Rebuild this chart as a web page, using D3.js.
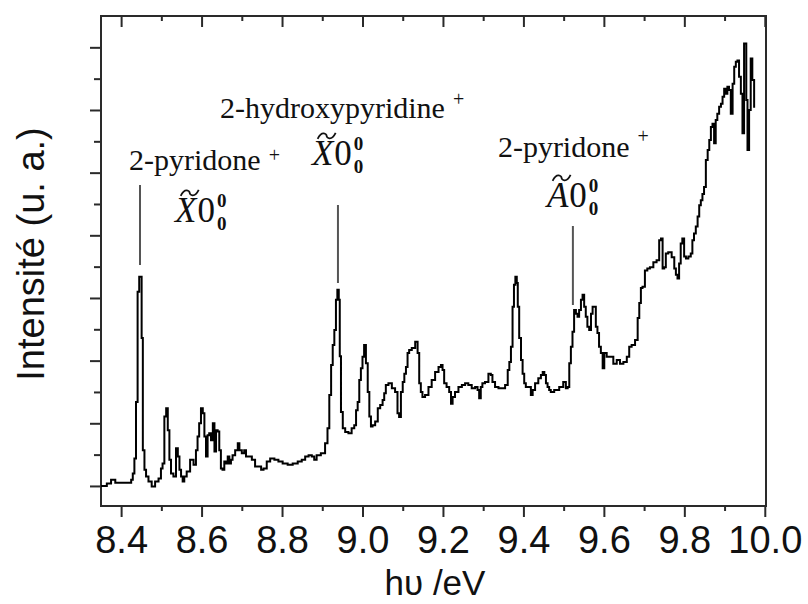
<!DOCTYPE html>
<html><head><meta charset="utf-8">
<script src="https://cdn.jsdelivr.net/npm/d3@7"></script>
<style>body{margin:0;background:#fff}svg{display:block}</style>
</head><body><svg id="c" width="808" height="604"></svg>
<script>
// ---- data (photon energy in eV, intensity in arbitrary units) ----
const energy = [8.350,8.360,8.369,8.381,8.390,8.423,8.427,8.431,8.435,8.439,8.443,8.447,8.450,8.452,8.456,8.460,8.464,8.472,8.480,8.489,
8.497,8.501,8.505,8.510,8.514,8.518,8.522,8.526,8.534,8.539,8.543,8.547,8.551,8.555,8.559,8.567,8.576,8.584,8.588,8.592,
8.596,8.601,8.605,8.609,8.613,8.617,8.621,8.626,8.630,8.634,8.638,8.642,8.646,8.650,8.654,8.659,8.663,8.667,8.671,8.675,
8.679,8.688,8.692,8.696,8.704,8.708,8.713,8.721,8.729,8.737,8.746,8.750,8.758,8.766,8.775,8.787,8.795,8.808,8.820,8.833,
8.845,8.853,8.862,8.870,8.878,8.882,8.890,8.903,8.911,8.915,8.920,8.924,8.928,8.932,8.936,8.939,8.943,8.944,8.949,8.953,
8.961,8.969,8.977,8.982,8.986,8.990,8.994,8.998,9.002,9.006,9.011,9.015,9.019,9.023,9.027,9.036,9.040,9.048,9.052,9.056,
9.060,9.069,9.077,9.085,9.089,9.093,9.098,9.102,9.106,9.110,9.114,9.118,9.127,9.135,9.139,9.143,9.147,9.151,9.160,9.168,
9.176,9.185,9.193,9.197,9.201,9.205,9.213,9.218,9.222,9.226,9.234,9.243,9.251,9.259,9.267,9.276,9.284,9.288,9.292,9.296,
9.300,9.309,9.317,9.321,9.325,9.334,9.342,9.350,9.359,9.363,9.367,9.371,9.375,9.378,9.382,9.385,9.387,9.392,9.396,9.400,
9.404,9.408,9.416,9.421,9.425,9.433,9.441,9.446,9.450,9.454,9.458,9.462,9.466,9.470,9.483,9.495,9.503,9.508,9.512,9.516,
9.520,9.524,9.528,9.533,9.536,9.541,9.545,9.549,9.553,9.557,9.561,9.566,9.570,9.574,9.578,9.582,9.586,9.590,9.595,9.599,
9.603,9.611,9.619,9.628,9.636,9.644,9.653,9.661,9.665,9.673,9.682,9.686,9.690,9.694,9.698,9.706,9.710,9.719,9.727,9.735,
9.740,9.744,9.748,9.752,9.756,9.764,9.773,9.777,9.781,9.785,9.789,9.793,9.797,9.802,9.806,9.814,9.818,9.822,9.826,9.831,
9.835,9.839,9.843,9.847,9.851,9.856,9.860,9.864,9.868,9.872,9.876,9.880,9.884,9.889,9.893,9.897,9.901,9.905,9.909,9.913,
9.918,9.922,9.926,9.930,9.934,9.938,9.943,9.946,9.951,9.953,9.955,9.959,9.963,9.967,9.971,9.976];
const intensity = [0.00,0.00,0.04,0.10,0.05,0.05,0.10,0.20,0.44,1.34,3.10,3.34,3.34,2.36,0.57,0.26,0.15,0.07,-0.01,0.07,
0.12,0.28,0.36,1.11,1.24,0.89,0.42,0.20,0.15,0.60,0.47,0.26,0.15,0.07,0.15,0.23,0.42,0.34,0.57,0.79,
1.00,1.24,1.16,0.79,0.47,0.81,0.84,0.73,1.00,0.55,0.89,0.87,0.57,0.28,0.26,0.39,0.36,0.47,0.36,0.42,
0.49,0.57,0.68,0.57,0.52,0.57,0.47,0.47,0.42,0.31,0.31,0.26,0.28,0.39,0.44,0.42,0.39,0.36,0.34,0.36,
0.39,0.42,0.47,0.49,0.47,0.42,0.49,0.52,0.68,0.92,1.45,1.93,2.25,2.49,2.97,3.13,2.97,2.07,1.18,0.92,
0.86,0.84,0.92,0.97,1.21,1.34,1.69,1.88,2.06,2.25,1.96,1.50,1.11,0.95,0.97,1.03,1.24,1.29,1.37,1.48,
1.61,1.64,1.56,1.50,1.16,1.10,1.50,1.66,1.79,1.90,2.12,2.17,2.20,2.30,2.12,1.64,1.50,1.42,1.45,1.58,
1.69,1.82,1.90,1.93,1.85,1.64,1.58,1.50,1.31,1.42,1.50,1.58,1.61,1.64,1.61,1.56,1.58,1.53,1.40,1.58,
1.64,1.66,1.79,1.77,1.66,1.58,1.56,1.56,1.61,1.85,1.98,2.22,2.86,3.21,3.34,3.24,2.86,2.36,2.01,1.79,
1.64,1.58,1.58,1.45,1.53,1.64,1.72,1.77,1.82,1.77,1.64,1.58,1.53,1.50,1.53,1.58,1.66,1.56,1.58,1.96,
2.22,2.46,2.81,2.75,2.70,2.81,2.97,3.05,2.86,2.70,2.54,2.49,2.75,2.86,2.86,2.54,2.44,2.22,2.12,1.88,
2.12,2.06,2.06,1.95,2.01,1.95,1.98,2.06,2.22,2.25,2.33,2.68,2.92,3.16,3.18,3.44,3.47,3.49,3.57,3.60,
3.92,3.95,3.47,3.49,3.71,3.73,3.65,3.47,3.37,3.31,3.55,3.87,3.95,3.66,3.63,3.66,3.71,3.92,4.03,4.14,
4.30,4.48,4.56,4.66,4.77,5.20,5.36,5.52,5.73,5.78,5.47,5.84,5.94,6.05,6.10,6.21,6.34,6.26,6.37,6.32,
5.94,6.42,6.69,6.77,6.79,6.53,6.26,5.63,7.06,7.06,6.16,5.36,6.00,6.82,6.48,6.05];

const xMajorTicks = [8.4, 8.6, 8.8, 9.0, 9.2, 9.4, 9.6, 9.8, 10.0];
const xMinorTicks = [8.5, 8.7, 8.9, 9.1, 9.3, 9.5, 9.7, 9.9];
const yMajorTicks = [0, 1, 2, 3, 4, 5, 6, 7];
const yMinorTicks = [0.5, 1.5, 2.5, 3.5, 4.5, 5.5, 6.5];

const annotSpecies = ["2-pyridone", "2-hydroxypyridine", "2-pyridone"];
const annotState   = ["X", "X", "A"];
const annotEnergy  = [8.447, 8.939, 9.523];

const xLabel = "h\u03C5 /eV";
const yLabel = "Intensit\u00E9 (u. a.)";

// ---- drawing ----
const svg = d3.select("#c");
const L = 101, R = 766, T = 16, B = 506;
const x = d3.scaleLinear().domain([8.35, 10.003]).range([L, R]);
const y = d3.scaleLinear().domain([-0.32, 7.5]).range([B, T]);

const axisCol = "#2a2a2a";
const sans = "'Liberation Sans', Arial, Helvetica, sans-serif";
const serif = "'Liberation Serif', 'Times New Roman', Times, serif";

function styleAxis(g){
  g.select(".domain").remove();
  g.selectAll(".tick line").attr("stroke", axisCol).attr("stroke-width", 2);
  g.selectAll(".tick text").attr("fill", "#111").attr("font-family", sans).attr("font-size", 38);
}

svg.append("g").attr("transform", `translate(0,${B})`)
  .call(d3.axisBottom(x).tickValues(xMajorTicks).tickSize(11).tickPadding(9).tickFormat(d3.format(".1f")))
  .call(styleAxis);
svg.append("g").attr("transform", `translate(0,${B})`)
  .call(d3.axisBottom(x).tickValues(xMinorTicks).tickSize(5).tickFormat(""))
  .call(styleAxis);
svg.append("g").attr("transform", `translate(0,${T})`)
  .call(d3.axisTop(x).tickValues(xMajorTicks).tickSize(-11).tickFormat(""))
  .call(styleAxis);
svg.append("g").attr("transform", `translate(0,${T})`)
  .call(d3.axisTop(x).tickValues(xMinorTicks).tickSize(-5).tickFormat(""))
  .call(styleAxis);
svg.append("g").attr("transform", `translate(${L},0)`)
  .call(d3.axisLeft(y).tickValues(yMajorTicks).tickSize(11).tickFormat(""))
  .call(styleAxis);
svg.append("g").attr("transform", `translate(${L},0)`)
  .call(d3.axisLeft(y).tickValues(yMinorTicks).tickSize(7).tickFormat(""))
  .call(styleAxis);

svg.append("rect").attr("x", L).attr("y", T).attr("width", R - L).attr("height", B - T)
  .attr("fill", "none").attr("stroke", axisCol).attr("stroke-width", 2);

// spectrum
const pts = energy.map((e, i) => [e, intensity[i]]);
const line = d3.line().x(d => x(d[0])).y(d => y(d[1])).curve(d3.curveStep);
svg.append("path").datum(pts).attr("d", line)
  .attr("fill", "none").attr("stroke", "#000").attr("stroke-width", 2).attr("stroke-linejoin", "miter");

// axis titles
svg.append("text").attr("x", 435).attr("y", 595).attr("text-anchor", "middle")
  .attr("font-family", sans).attr("font-size", 35).attr("fill", "#111").text(xLabel);
svg.append("text").attr("transform", "translate(44,254) rotate(-90)").attr("text-anchor", "middle")
  .attr("font-family", sans).attr("font-size", 38).attr("fill", "#111").text(yLabel);

// annotations
const layout = [
  {sp:[-11,170], plusDy:-8, st:[35,222], ln:[185,265]},
  {sp:[-118,118], plusDy:-12, st:[-26,165], ln:[205,283]},
  {sp:[-75,157], plusDy:-14, st:[-26,207], ln:[226,305]}
];
const ag = svg.append("g");
const stateFs = 35, idxFs = 19;
annotEnergy.forEach((e, i) => {
  const lx = x(e), lay = layout[i];
  ag.append("line").attr("x1", lx).attr("x2", lx).attr("y1", lay.ln[0]).attr("y2", lay.ln[1])
    .attr("stroke", "#555").attr("stroke-width", 2);
  const sp = ag.append("text").attr("x", lx + lay.sp[0]).attr("y", lay.sp[1])
    .attr("font-family", serif).attr("font-size", 30).attr("fill", "#111").text(annotSpecies[i]);
  const w = sp.node().getComputedTextLength();
  ag.append("text").attr("x", lx + lay.sp[0] + w + 8).attr("y", lay.sp[1] + lay.plusDy)
    .attr("font-family", serif).attr("font-size", 20).attr("fill", "#111").text("+");
  // electronic state label  e.g.  X~ 0^0_0
  const sx = lx + lay.st[0], sb = lay.st[1];
  const let1 = ag.append("text").attr("x", sx).attr("y", sb).attr("font-family", serif)
    .attr("font-size", stateFs).attr("font-style", "italic").attr("fill", "#111").text(annotState[i]);
  const w1 = let1.node().getComputedTextLength();
  // tilde accent drawn as a small wave
  const tcx = sx + w1 / 2 + 4, tcy = sb - stateFs * 0.66 - 6, tw = 9, ta = 3;
  ag.append("path")
    .attr("d", `M${tcx - tw},${tcy + ta} C${tcx - tw * 0.5},${tcy - ta * 2} ${tcx},${tcy - ta * 0.5} ${tcx},${tcy} S${tcx + tw * 0.5},${tcy + ta * 2} ${tcx + tw},${tcy - ta}`)
    .attr("fill", "none").attr("stroke", "#111").attr("stroke-width", 1.8);
  const z = ag.append("text").attr("x", sx + w1 + 1).attr("y", sb).attr("font-family", serif)
    .attr("font-size", stateFs).attr("fill", "#111").text("0");
  const w2 = z.node().getComputedTextLength();
  ag.append("text").attr("x", sx + w1 + w2 + 3).attr("y", sb - 15).attr("font-family", serif)
    .attr("font-size", idxFs).attr("font-weight", "bold").attr("fill", "#111").text("0");
  ag.append("text").attr("x", sx + w1 + w2 + 3).attr("y", sb + 8).attr("font-family", serif)
    .attr("font-size", idxFs).attr("font-weight", "bold").attr("fill", "#111").text("0");
});
</script>
</body></html>
